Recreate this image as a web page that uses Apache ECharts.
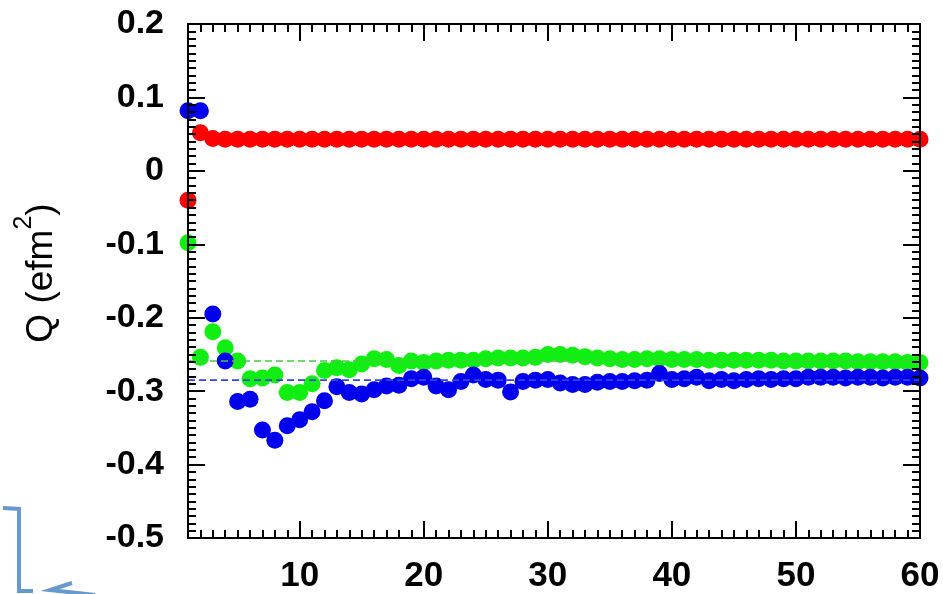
<!DOCTYPE html>
<html>
<head>
<meta charset="utf-8">
<script src="https://cdn.jsdelivr.net/npm/echarts@6/dist/echarts.min.js"></script>
<style>html,body{margin:0;padding:0;background:#fff;}#chart{width:943px;height:594px;}</style>
</head>
<body>
<div id="chart"></div>
<script>
// ---- data ----
const xValues = [1,2,3,4,5,6,7,8,9,10,11,12,13,14,15,16,17,18,19,20,21,22,23,24,25,26,27,28,29,30,31,32,33,34,35,36,37,38,39,40,41,42,43,44,45,46,47,48,49,50,51,52,53,54,55,56,57,58,59,60];
const redQ = [-0.040,0.052,0.044,0.043,0.043,0.043,0.043,0.043,0.043,0.043,0.043,0.043,0.043,0.043,0.043,0.043,0.043,0.043,0.043,0.043,0.043,0.043,0.043,0.043,0.043,0.043,0.043,0.043,0.043,0.043,0.043,0.043,0.043,0.043,0.043,0.043,0.043,0.043,0.043,0.043,0.043,0.043,0.043,0.043,0.043,0.043,0.043,0.043,0.043,0.043,0.043,0.043,0.043,0.043,0.043,0.043,0.043,0.043,0.043,0.043];
const greenQ = [-0.098,-0.254,-0.219,-0.241,-0.259,-0.283,-0.282,-0.278,-0.302,-0.302,-0.290,-0.272,-0.268,-0.271,-0.263,-0.256,-0.257,-0.265,-0.259,-0.261,-0.259,-0.258,-0.258,-0.258,-0.256,-0.255,-0.255,-0.255,-0.254,-0.250,-0.250,-0.251,-0.253,-0.255,-0.256,-0.257,-0.257,-0.256,-0.256,-0.257,-0.257,-0.257,-0.258,-0.258,-0.258,-0.258,-0.258,-0.258,-0.259,-0.259,-0.259,-0.259,-0.259,-0.259,-0.260,-0.260,-0.260,-0.260,-0.261,-0.261];
const blueQ = [0.082,0.082,-0.195,-0.259,-0.314,-0.311,-0.353,-0.367,-0.347,-0.339,-0.328,-0.313,-0.294,-0.302,-0.304,-0.298,-0.293,-0.292,-0.283,-0.281,-0.293,-0.298,-0.287,-0.278,-0.284,-0.285,-0.301,-0.287,-0.285,-0.284,-0.289,-0.291,-0.291,-0.288,-0.287,-0.287,-0.286,-0.285,-0.276,-0.284,-0.283,-0.281,-0.286,-0.284,-0.286,-0.284,-0.283,-0.284,-0.283,-0.283,-0.281,-0.281,-0.281,-0.282,-0.281,-0.281,-0.282,-0.281,-0.281,-0.282];
const greenRefX = [1, 60];
const greenRefQ = [-0.259, -0.259];
const blueRefX = [1, 60];
const blueRefQ = [-0.285, -0.285];
const xMajorTicks = [10,20,30,40,50,60];
const xLabels = [10,20,30,40,50,60];
const yTickLabels = ['0.2','0.1','0','-0.1','-0.2','-0.3','-0.4','-0.5'];
const yAxisTitle = 'Q (efm';
const yAxisTitleSup = '2';

// ---- build ----
const xMinorTicks = [];
for (let i = 1; i <= 60; i++) xMinorTicks.push(i);
const pairs = (xs, ys) => xs.map((x, i) => [x, ys[i]]);

const axisColor = '#000';
const labelFont = 'Liberation Sans, Arial, sans-serif';

function xAxisDef(pos, ticks, len, labels) {
  return {
    type: 'value', min: 1, max: 60, position: pos, z: 5,
    axisLine: { show: true, onZero: false, lineStyle: { color: axisColor, width: 2 } },
    axisTick: { show: true, inside: true, length: len, customValues: ticks, lineStyle: { color: axisColor, width: 2 } },
    axisLabel: labels ? {
      show: true, customValues: xLabels, fontSize: 35, fontWeight: 'bold', fontFamily: labelFont,
      color: '#000', margin: 21
    } : { show: false },
    splitLine: { show: false }
  };
}
function yAxisDef(pos, labels) {
  return {
    type: 'value', min: -0.5, max: 0.2, interval: 0.1, position: pos, z: 5,
    axisLine: { show: true, onZero: false, lineStyle: { color: axisColor, width: 2 } },
    axisTick: { show: true, inside: true, length: 17, lineStyle: { color: axisColor, width: 2 } },
    minorTick: { show: true, splitNumber: 10, length: 8, lineStyle: { color: axisColor, width: 2 } },
    axisLabel: labels ? {
      show: true, fontSize: 34, fontWeight: 'bold', fontFamily: labelFont, color: '#000', margin: 24,
      formatter: function (v) {
        const idx = Math.round((0.2 - v) / 0.1);
        return yTickLabels[idx] !== undefined ? yTickLabels[idx] : '';
      }
    } : { show: false },
    splitLine: { show: false }, minorSplitLine: { show: false }
  };
}

const chart = echarts.init(document.getElementById('chart'), null, { renderer: 'canvas' });
chart.setOption({
  animation: false,
  backgroundColor: '#fff',
  grid: { left: 188, right: 23, top: 24, bottom: 56, containLabel: false },
  xAxis: [
    xAxisDef('bottom', xMajorTicks, 17, true),
    xAxisDef('bottom', xMinorTicks, 8, false),
    xAxisDef('top', xMajorTicks, 17, false),
    xAxisDef('top', xMinorTicks, 8, false)
  ],
  yAxis: [ yAxisDef('left', true), yAxisDef('right', false) ],
  graphic: [
    {
      type: 'text', x: 36, y: 273, rotation: Math.PI / 2, z: 10,
      style: {
        text: '{a|' + yAxisTitle + '}{s|' + yAxisTitleSup + '}{a|)}',
        align: 'center', verticalAlign: 'middle',
        rich: {
          a: { fontSize: 37, fontFamily: labelFont, fill: '#000', verticalAlign: 'bottom', lineHeight: 48 },
          s: { fontSize: 25, fontFamily: labelFont, fill: '#000', verticalAlign: 'top', lineHeight: 48 }
        }
      }
    },
    {
      type: 'polyline', z: 10,
      shape: { points: [[3, 508], [19, 509], [19, 591], [33, 591]] },
      style: { stroke: '#6699cc', lineWidth: 4, fill: null }
    },
    {
      type: 'polyline', z: 10,
      shape: { points: [[95, 595], [50, 590], [72, 583]] },
      style: { stroke: '#6699cc', lineWidth: 4, fill: null }
    }
  ],
  series: [
    { type: 'scatter', name: 'red', xAxisIndex: 0, yAxisIndex: 0, data: pairs(xValues, redQ), symbol: 'circle', symbolSize: 17, clip: false, z: 2, itemStyle: { color: '#ff0000', opacity: 1 } },
    { type: 'scatter', name: 'green', xAxisIndex: 0, yAxisIndex: 0, data: pairs(xValues, greenQ), symbol: 'circle', symbolSize: 17, clip: false, z: 2, itemStyle: { color: '#11ee11', opacity: 1 } },
    { type: 'scatter', name: 'blue', xAxisIndex: 0, yAxisIndex: 0, data: pairs(xValues, blueQ), symbol: 'circle', symbolSize: 17, clip: false, z: 2, itemStyle: { color: '#0000ee', opacity: 1 } },
    { type: 'line', name: 'greenRef', xAxisIndex: 0, yAxisIndex: 0, data: pairs(greenRefX, greenRefQ), symbol: 'none', z: 3, lineStyle: { color: '#44cc44', width: 1.6, type: [7, 4] } },
    { type: 'line', name: 'blueRef', xAxisIndex: 0, yAxisIndex: 0, data: pairs(blueRefX, blueRefQ), symbol: 'none', z: 3, lineStyle: { color: '#3344dd', width: 1.6, type: [7, 4] } }
  ]
});
</script>
</body>
</html>
